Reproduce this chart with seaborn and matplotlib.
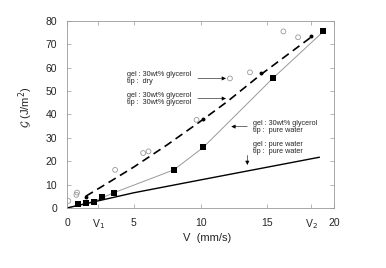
import numpy as np
import pandas as pd
import matplotlib
matplotlib.use("Agg")
import matplotlib.pyplot as plt
import seaborn as sns

# tip dry (open circles)
dry_v = [0.1, 0.7, 0.75, 3.6, 5.7, 6.1, 9.7, 12.2, 13.7, 16.2, 17.3]
dry_g = [3.0, 5.6, 6.6, 16.3, 23.5, 24.2, 37.7, 55.4, 58.0, 75.5, 73.0]

# tip 30wt% glycerol (small black dots)
gly_v = [1.4, 10.2, 14.5, 18.3]
gly_g = [4.9, 37.9, 57.6, 73.4]

# tip pure water (squares)
pw_v = [0.8, 1.4, 2.0, 2.6, 3.5, 8.0, 10.2, 15.4, 19.2]
pw_g = [1.7, 2.3, 2.7, 4.9, 6.3, 16.3, 25.9, 55.4, 75.5]

# fit curves
dash_v = [1.4, 3.0, 5.0, 7.5, 10.2, 12.0, 14.5, 16.5, 18.5]
dash_g = [5.0, 10.5, 17.5, 27.0, 37.9, 45.5, 57.0, 65.5, 74.0]
thin_v = [0.0, 2.0, 3.5, 8.0, 10.2, 15.4, 19.2]
thin_g = [0.0, 2.8, 6.5, 16.3, 25.9, 55.4, 75.5]
water_v = [0.0, 5.0, 10.0, 18.9]
water_g = [0.0, 6.5, 12.0, 21.7]

xticks = [0, 2.35, 5, 10, 15, 18.3, 20]
xticklabels = ["0", "V$_1$", "5", "10", "15", "V$_2$", "20"]
yticks = [0, 10, 20, 30, 40, 50, 60, 70, 80]

sns.set_style("ticks")
plt.rcParams["font.family"] = ["Liberation Sans", "DejaVu Sans"]
plt.rcParams["mathtext.fontset"] = "dejavusans"

fig = plt.figure(figsize=(3.86, 2.68), dpi=100)
ax = fig.add_axes([0.1736, 0.224, 0.692, 0.698])

sns.lineplot(x=dash_v, y=dash_g, ax=ax, color="black", lw=1.2, linestyle=(0, (5, 3)), sort=False)
sns.lineplot(x=thin_v, y=thin_g, ax=ax, color="#999999", lw=0.7, sort=False)
sns.lineplot(x=water_v, y=water_g, ax=ax, color="black", lw=1.0, sort=False)

sns.scatterplot(x=dry_v, y=dry_g, ax=ax, marker="o", s=12, facecolor="none",
                edgecolor="#999999", linewidth=0.6, zorder=3)
sns.scatterplot(x=gly_v, y=gly_g, ax=ax, marker="o", s=8, color="black",
                edgecolor="black", linewidth=0, zorder=3)
sns.scatterplot(x=pw_v, y=pw_g, ax=ax, marker="s", s=24, color="black",
                edgecolor="black", linewidth=0, zorder=3)

ax.set_xlim(0, 20)
ax.set_ylim(0, 80)
ax.set_xticks(xticks)
ax.set_xticklabels(xticklabels)
ax.set_yticks(yticks)
ax.tick_params(direction="in", top=True, right=True, length=3, width=0.5,
               color="#999999", labelsize=7.5, pad=7)
for s in ax.spines.values():
    s.set_color("#999999")
    s.set_linewidth(0.6)

ax.set_xlabel("V  (mm/s)", fontsize=8)
ax.xaxis.set_label_coords(0.524, -0.135)
ax.set_ylabel(r"$\mathcal{G}$ (J/m$^2$)", fontsize=8)
ax.yaxis.set_label_coords(-0.12, 0.54)

fs = 5.2
arr = dict(arrowstyle="-|>", color="black", lw=0.4, mutation_scale=6, shrinkA=0, shrinkB=0)
ax.text(4.5, 55.5, "gel : 30wt% glycerol\ntip :  dry", fontsize=fs, va="center", linespacing=1.0)
ax.annotate("", xy=(11.9, 55.4), xytext=(9.8, 55.4), arrowprops=arr)
ax.text(4.5, 46.6, "gel : 30wt% glycerol\ntip :  30wt% glycerol", fontsize=fs, va="center", linespacing=1.0)
ax.annotate("", xy=(11.9, 46.8), xytext=(9.8, 46.8), arrowprops=arr)
ax.text(13.9, 34.8, "gel : 30wt% glycerol\ntip :  pure water", fontsize=fs, va="center", linespacing=1.0)
ax.annotate("", xy=(12.3, 34.8), xytext=(13.5, 34.8), arrowprops=arr)
ax.text(13.9, 25.5, "gel : pure water\ntip :  pure water", fontsize=fs, va="center", linespacing=1.0)
ax.annotate("", xy=(13.5, 18.4), xytext=(13.5, 22.5), arrowprops=arr)

fig.savefig("out.png", dpi=100)
